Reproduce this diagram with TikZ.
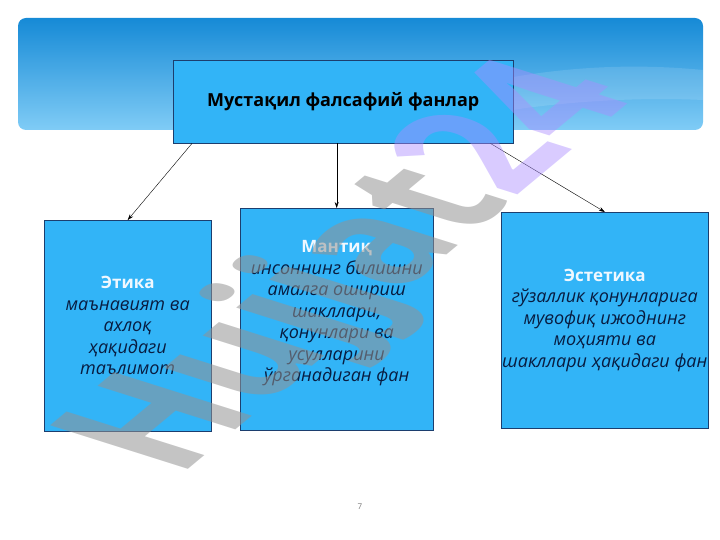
\documentclass[tikz,border=0pt]{standalone}
\usepackage{fontspec}
\setmainfont{Open Sans}
\usetikzlibrary{arrows.meta, positioning, calc}
\definecolor{boxblue}{RGB}{50,180,247}
\definecolor{boxline}{RGB}{28,62,110}
\definecolor{textnavy}{RGB}{8,28,64}
\definecolor{titlewhite}{RGB}{240,248,255}
\definecolor{bannertop}{RGB}{22,138,214}
\definecolor{bannerbot}{RGB}{128,204,246}
\definecolor{markgray}{RGB}{120,120,120}
\definecolor{markviolet}{RGB}{170,140,255}
\newcommand{\fantitlefont}{\fontsize{17}{21.5}\selectfont\bfseries\upshape}

\begin{document}
\begin{tikzpicture}[x=1pt, y=-1pt,
    fan/.style={draw=boxline, fill=boxblue, align=center, inner sep=1pt,
        text=textnavy, font=\fontsize{18}{21.5}\selectfont\itshape},
    link/.style={-{Stealth[length=6pt, width=4pt]}, thin}]
    \useasboundingbox (0,0) rectangle (720,540);
    % Sarlavha foni
    \shade[top color=bannertop, bottom color=bannerbot, rounded corners=8pt]
        (18,18) rectangle (703,130);
    \fill[white, opacity=0.12] (330,130) .. controls (480,70) and (600,60) .. (703,70)
        -- (703,100) .. controls (600,95) and (480,110) .. (420,130) -- cycle;
    % Asosiy blok
    \node[fan, anchor=north west, minimum width=340pt, minimum height=83pt] (asos) at (173,60)
        {\fontsize{18}{21}\selectfont\bfseries\upshape\color{black}Мустақил фалсафий фанлар};
    % Quyi bloklar
    \node[fan, anchor=north west, minimum width=167pt, minimum height=211pt] (etika) at (44,220)
        {{\fantitlefont\color{titlewhite}Этика}\\маънавият ва\\ахлоқ\\ҳақидаги\\таълимот};
    \node[fan, anchor=north west, minimum width=193pt, minimum height=222pt] (mantiq) at (240,208)
        {{\fantitlefont\color{titlewhite}Мантиқ}\\инсоннинг билишни\\амалга ошириш\\шакллари,\\қонунлари ва\\усулларини\\ўрганадиган фан\\[-5pt]};
    \node[fan, anchor=north west, minimum width=198pt, minimum height=216pt] (estetika) at (501,212)
        {{\fantitlefont\color{titlewhite}Эстетика}\\гўзаллик қонунларига\\мувофиқ ижоднинг\\моҳияти ва\\шакллари ҳақидаги фан};
    % Strelkalar
    \draw[link] ($(asos.south west)+(19,0)$) -- (etika.north);
    \draw[link] (asos.south -| mantiq.north) -- (mantiq.north);
    \draw[link] ($(asos.south east)+(-23,0)$) -- (estetika.north);
    % Sahifa raqami
    \node[text=markgray, font=\fontsize{8}{10}\selectfont] (sahifa) at (360,507) {7};
    % Suv belgisi
    \begin{scope}[shift={(178,478)}]
        \node[cm={0.77,0.64,-1.36,0.43,(0,0)}, transform shape, anchor=base west, inner sep=0pt,
            font=\fontsize{142}{142}\selectfont\bfseries] (belgi) at (0,0)
            {\textcolor{markgray!80}{\pgfsetfillopacity{0.55}Hujjat}\textcolor{markviolet}{\pgfsetfillopacity{0.45}24}};
    \end{scope}
\end{tikzpicture}
\end{document}
